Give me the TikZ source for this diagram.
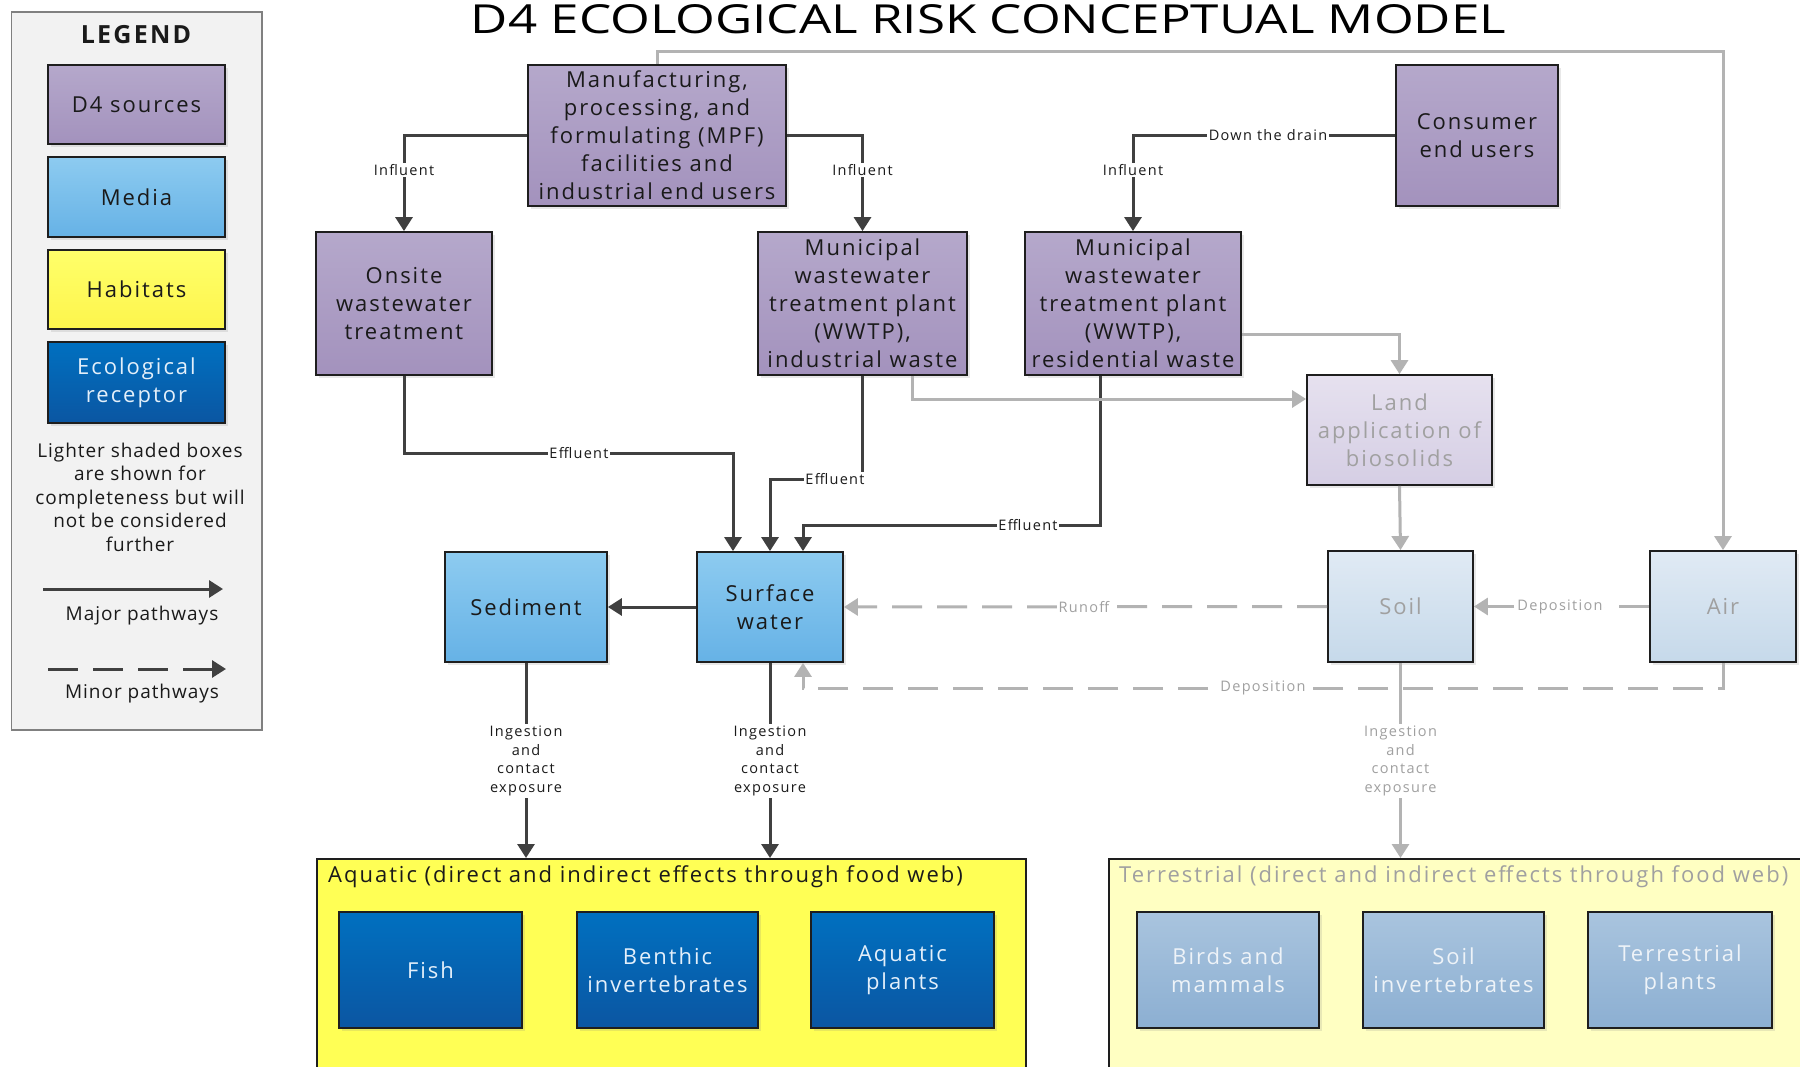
\documentclass[tikz,border=0pt]{standalone}
\usepackage{fontspec}
\setmainfont[LetterSpace=9]{Open Sans}
\newfontfamily\legfam[LetterSpace=5]{Open Sans}
\newfontfamily\ttlfam{Open Sans}
\usetikzlibrary{arrows.meta,shadows}
\definecolor{srcT}{HTML}{B5A8CB}
\definecolor{srcB}{HTML}{A392BD}
\definecolor{medT}{HTML}{8DCBF0}
\definecolor{medB}{HTML}{66B2E6}
\definecolor{habT}{HTML}{FFFF6A}
\definecolor{habB}{HTML}{FDF54C}
\definecolor{recT}{HTML}{0070C0}
\definecolor{recB}{HTML}{0B56A2}
\definecolor{lsrcT}{HTML}{E6E1EF}
\definecolor{lsrcB}{HTML}{D5CEE4}
\definecolor{lmedT}{HTML}{E0EAF4}
\definecolor{lmedB}{HTML}{C6D9EA}
\definecolor{lrecT}{HTML}{A9C4DE}
\definecolor{lrecB}{HTML}{8CAFD2}
\definecolor{aqhab}{HTML}{FFFF55}
\definecolor{lhab}{HTML}{FFFFC2}
\definecolor{darkln}{HTML}{404040}
\definecolor{grayln}{HTML}{B3B3B3}
\definecolor{graytx}{HTML}{A0A0A0}
\definecolor{boxln}{HTML}{1E1E1E}
\definecolor{legfill}{HTML}{F2F2F2}
\definecolor{legln}{HTML}{808080}
\definecolor{txdark}{HTML}{1A1A1A}
\definecolor{rectx}{HTML}{E3EFFA}
\definecolor{lrectx}{HTML}{EEF3F8}
\newcommand\bxfont{\fontsize{22}{28}\selectfont}
\newcommand\lblfont{\fontsize{14.5}{18.7}\selectfont}
\newcommand\legfont{\legfam\fontsize{19}{23.5}\selectfont}
\begin{document}
\begin{tikzpicture}[x=1pt,y=-1pt,
  bx/.style={draw=boxln, line width=1.8pt, inner sep=0pt, align=center, font=\bxfont, text=txdark,
    drop shadow={opacity=0.18, shadow xshift=3pt, shadow yshift=-3pt}},
  src/.style={bx, top color=srcT, bottom color=srcB},
  med/.style={bx, top color=medT, bottom color=medB},
  hab/.style={bx, top color=habT, bottom color=habB},
  rec/.style={bx, top color=recT, bottom color=recB, text=rectx},
  lsrc/.style={bx, top color=lsrcT, bottom color=lsrcB, text=graytx},
  lmed/.style={bx, top color=lmedT, bottom color=lmedB, text=graytx},
  lrec/.style={bx, top color=lrecT, bottom color=lrecB, text=lrectx},
  major/.style={draw=darkln, line width=3pt, -{Triangle[length=14pt,width=17pt]}},
  minor/.style={draw=grayln, line width=3pt, -{Triangle[length=14pt,width=17pt]}},
  dashpat/.style={dash pattern=on 30pt off 15pt},
  lbl/.style={fill=white, inner sep=1.5pt, font=\lblfont, text=txdark, align=center},
  glbl/.style={lbl, text=graytx},
  legtxt/.style={font=\legfont, text=txdark, align=center, inner sep=0pt},
]
\useasboundingbox (0,0) rectangle (1800,1067);
\fill[white] (0,0) rectangle (1800,1067);

% ---------- Legend ----------
\node[draw=legln, fill=legfill, line width=1.5pt, minimum width=250.5pt, minimum height=718pt, inner sep=0pt] (legend) at (136.75,370.85) {};
\node[font=\fontsize{25}{25}\selectfont\bfseries, text=txdark, inner sep=0pt] (legtitle) at (136,35) {LEGEND};
\node[src, minimum width=177pt, minimum height=79pt] (legsrc) at (136.5,104.5) {D4 sources};
\node[med, minimum width=177pt, minimum height=80pt] (legmed) at (136.5,197) {Media};
\node[hab, minimum width=177pt, minimum height=79pt] (leghab) at (136.5,289.5) {Habitats};
\node[rec, minimum width=177pt, minimum height=81pt] (legrec) at (136.5,382.5) {Ecological\\receptor};
\node[legtxt] (legnote) at (140,497) {Lighter shaded boxes\\are shown for\\completeness but will\\not be considered\\further};
\coordinate (ma1) at (43,589);
\coordinate (ma2) at (223,589);
\draw[major] (ma1) -- (ma2);
\node[legtxt] (legmaj) at (142,616) {Major pathways};
\coordinate (mi1) at (48,669);
\coordinate (mi2) at (226,669);
\draw[major, dashpat] (mi1) -- (mi2);
\node[legtxt] (legmin) at (142,694) {Minor pathways};

% ---------- Title ----------
\node[inner sep=0pt, anchor=south] (title) at (988.5,34) {\resizebox{1035pt}{29pt}{\ttlfam\fontsize{40}{40}\selectfont D4 ECOLOGICAL RISK CONCEPTUAL MODEL}};

% ---------- Sources ----------
\node[src, minimum width=258pt, minimum height=141pt] (mpf) at (657,135.5) {Manufacturing,\\processing, and\\formulating (MPF)\\facilities and\\industrial end users};
\node[src, minimum width=162pt, minimum height=141pt] (cons) at (1477,135.5) {Consumer\\end users};
\node[src, minimum width=176pt, minimum height=143pt] (onsite) at (404,303.5) {Onsite\\wastewater\\treatment};
\node[src, minimum width=209pt, minimum height=143pt] (mind) at (862.5,303.5) {Municipal\\wastewater\\treatment plant\\(WWTP),\\industrial waste};
\node[src, minimum width=216pt, minimum height=143pt] (mres) at (1133,303.5) {Municipal\\wastewater\\treatment plant\\(WWTP),\\residential waste};
\node[lsrc, minimum width=185pt, minimum height=110pt] (land) at (1399.5,430) {Land\\application of\\biosolids};

% ---------- Media ----------
\node[med, minimum width=162pt, minimum height=110pt] (sed) at (526,607) {Sediment};
\node[med, minimum width=146pt, minimum height=110pt] (sw) at (770,607) {Surface\\water};
\node[lmed, minimum width=145pt, minimum height=111pt] (soil) at (1400.5,606.5) {Soil};
\node[lmed, minimum width=146pt, minimum height=111pt] (air) at (1723,606.5) {Air};

% ---------- Habitats ----------
\node[draw=boxln, line width=1.8pt, fill=aqhab, minimum width=709pt, minimum height=260pt, inner sep=0pt, anchor=north west] (aq) at (316,858) {};
\node[font=\bxfont, text=txdark, anchor=west, inner sep=0pt] (aqtitle) at (328,877) {Aquatic (direct and indirect effects through food web)};
\node[draw=boxln, line width=1.8pt, fill=lhab, minimum width=760pt, minimum height=260pt, inner sep=0pt, anchor=north west] (ter) at (1108,858) {};
\node[font=\bxfont, text=graytx, anchor=west, inner sep=0pt] (tertitle) at (1119,877) {Terrestrial (direct and indirect effects through food web)};

\node[rec, minimum width=183pt, minimum height=116pt] (fish) at (430.5,970) {Fish};
\node[rec, minimum width=181pt, minimum height=116pt] (benth) at (667.5,970) {Benthic\\invertebrates};
\node[rec, minimum width=183pt, minimum height=116pt] (aqpl) at (902.5,970) {Aquatic\\plants};
\node[lrec, minimum width=182pt, minimum height=116pt] (birds) at (1228,970) {Birds and\\mammals};
\node[lrec, minimum width=181pt, minimum height=116pt] (soilinv) at (1453.5,970) {Soil\\invertebrates};
\node[lrec, minimum width=184pt, minimum height=116pt] (terpl) at (1680,970) {Terrestrial\\plants};

% ---------- Connectors ----------
% influent
\draw[major] (mpf.west) -| (onsite.north);
\draw[major] (mpf.east) -| (mind.north);
\draw[major] (cons.west) -| (mres.north);
% effluent
\draw[major] (onsite.south) -- (onsite.south |- 0,453) -| ([xshift=-37pt]sw.north);
\draw[major] (mind.south) -- (mind.south |- 0,479) -| (sw.north);
\draw[major] ([xshift=-33pt]mres.south) -- ([xshift=-33pt]mres.south |- 0,525) -| ([xshift=33pt]sw.north);
% biosolids
\draw[minor] ([xshift=50pt]mind.south) |- (land.west |- 0,399);
\draw[minor] (mres.east |- 0,335) -| (land.north);
\draw[minor] (land.south) -- (soil.north);
% air
\draw[minor] (mpf.north) -- (mpf.north |- 0,52) -| (air.north);
\draw[minor, dashpat] (air.west) -- (soil.east);
\draw[minor, dashpat] (soil.west) -- (sw.east);
\draw[minor, dashpat] (air.south) -- (air.south |- 0,688) -| ([xshift=33pt]sw.south);
% media to habitats
\draw[major] (sw.west) -- (sed.east);
\draw[major] (sed.south) -- (sed.south |- aq.north);
\draw[major] (sw.south) -- (sw.south |- aq.north);
\draw[minor] (soil.south) -- (soil.south |- ter.north);

% ---------- Labels ----------
\node[lbl] (lin1) at (404,170) {Influent};
\node[lbl] (lin2) at (862.5,170) {Influent};
\node[lbl] (lin3) at (1133,170) {Influent};
\node[lbl] (ldrain) at (1268,135.5) {Down the drain};
\node[lbl] (lef1) at (579,453) {Effluent};
\node[lbl] (lef2) at (835,479) {Effluent};
\node[lbl] (lef3) at (1028,525) {Effluent};
\node[glbl] (lrun) at (1084,607) {Runoff};
\node[glbl] (ldep1) at (1560,607) {Deposition};
\node[glbl] (ldep2) at (1263,688) {Deposition};
\node[lbl] (ling1) at (526,761) {Ingestion\\and\\contact\\exposure};
\node[lbl] (ling2) at (770,761) {Ingestion\\and\\contact\\exposure};
\node[glbl] (ling3) at (1400.5,761) {Ingestion\\and\\contact\\exposure};
\end{tikzpicture}
\end{document}
